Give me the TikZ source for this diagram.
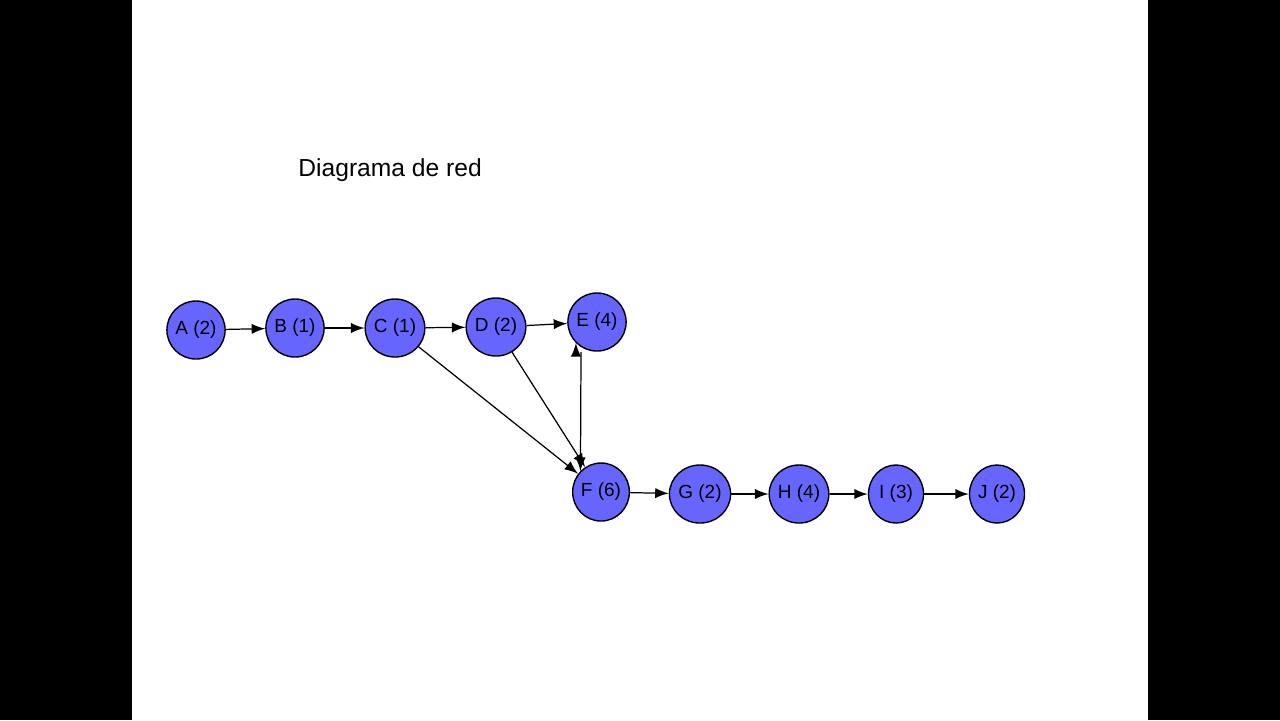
\documentclass[tikz,border=0pt]{standalone}
\usepackage{fontspec}
\setmainfont{Liberation Sans}
\begin{document}
\begin{tikzpicture}[x=0.01cm,y=-0.01cm,
  nd/.style={ellipse,draw=black,line width=0.4pt,fill={rgb,255:red,102;green,102;blue,255},minimum width=0.55cm,minimum height=0.58cm,inner sep=0pt,font=\fontsize{5.4pt}{6pt}\selectfont},
  ar/.style={-latex,line width=0.35pt}]
\usetikzlibrary{shapes.geometric}
\fill[black] (0,0) rectangle (1280,720);
\fill[white] (132,0) rectangle (1148,720);
\node[anchor=west,font=\fontsize{7pt}{8pt}\selectfont] (t) at (286,170) {Diagrama de red};
\node[nd] (A) at (196,330) {A (2)};
\node[nd] (B) at (295,328) {B (1)};
\node[nd] (C) at (395,328) {C (1)};
\node[nd] (D) at (496,327) {D (2)};
\node[nd] (E) at (597,322) {E (4)};
\node[nd] (F) at (601,492) {F (6)};
\node[nd] (G) at (700,494) {G (2)};
\node[nd] (H) at (799,494) {H (4)};
\node[nd] (I) at (896,494) {I (3)};
\node[nd] (J) at (997,494) {J (2)};
\draw[ar] (A) -- (B);
\draw[ar] (B) -- (C);
\draw[ar] (C) -- (D);
\draw[ar] (D) -- (E);
\draw[ar] (C) -- (F);
\draw[ar] (D) -- (F);
\draw[ar] (E.south west) ++(0,0) coordinate (e1);
\draw[ar] (581,352) -- (F.north west);
\draw[ar] (F) -- (G);
\draw[ar] (G) -- (H);
\draw[ar] (H) -- (I);
\draw[ar] (I) -- (J);
\end{tikzpicture}
\end{document}
